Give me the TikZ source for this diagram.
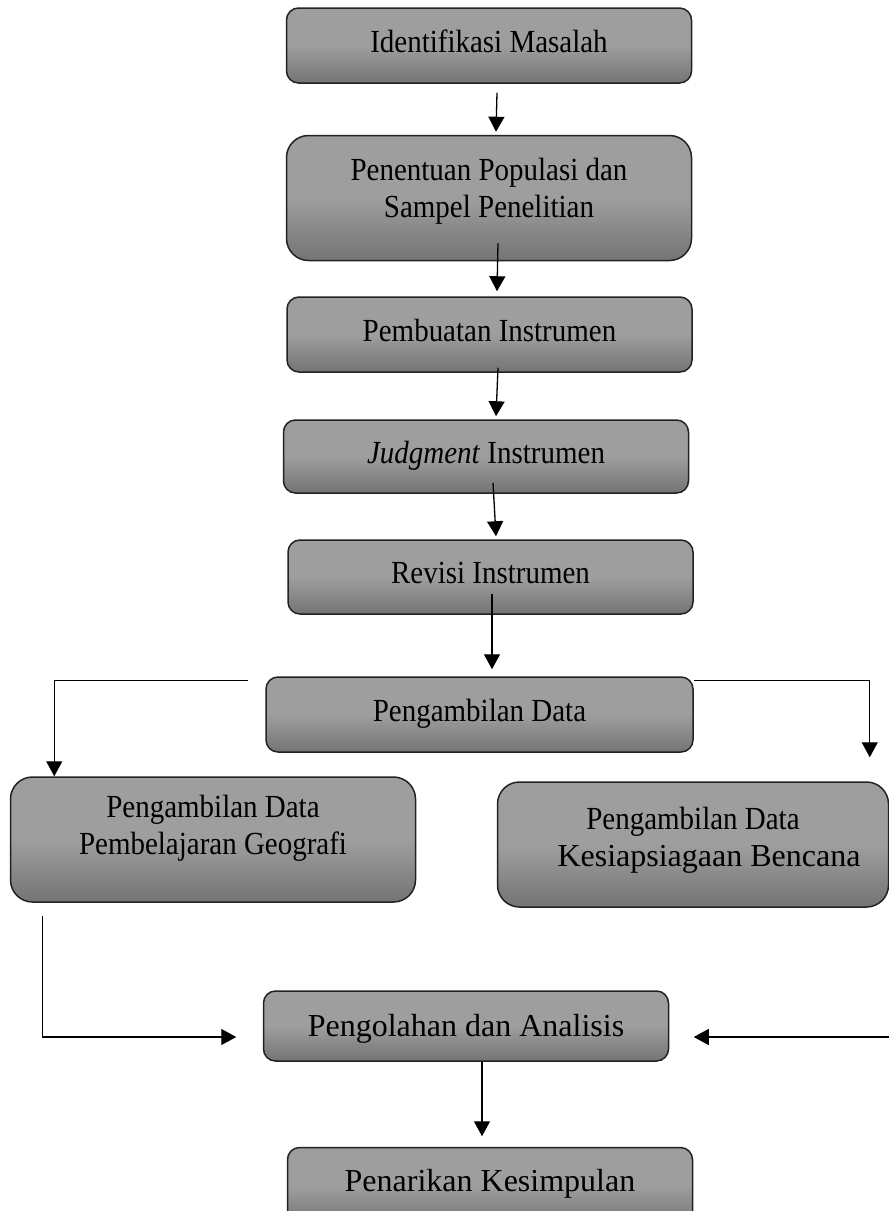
\documentclass[tikz,border=0pt]{standalone}
\usepackage{fontspec}
\setmainfont{Liberation Serif}
\newfontfamily\kotakfont[FakeStretch=0.9]{Liberation Serif}
\usetikzlibrary{arrows.meta,calc}
\definecolor{boxtop}{RGB}{158,158,158}
\definecolor{boxbot}{RGB}{116,116,116}
\definecolor{boxline}{RGB}{34,34,34}

\begin{document}
\begin{tikzpicture}[x=1pt,y=-1pt,
    kotak/.style={rectangle, draw=boxline, line width=1.5pt,
      top color=boxtop, bottom color=boxbot, middle color=boxtop,
      minimum width=405pt, inner sep=0pt, align=center,
      font=\kotakfont\fontsize{32.2}{37}\selectfont},
    stage/.style={kotak, minimum height=75pt, rounded corners=12pt,
      text height=22pt, text depth=9pt},
    tallstage/.style={kotak, minimum height=125pt, rounded corners=22pt},
    bigstage/.style={stage, font=\fontsize{32}{38}\selectfont, text height=22.5pt},
    flow/.style={line width=1.3pt, -{Triangle[length=15pt,width=16pt]}}]
  \useasboundingbox (0,0) rectangle (889,1211);
  \clip (0,0) rectangle (889,1211);

  \node[stage] (ident) at (489,45.5) {Identifikasi Masalah};
  \node[tallstage, text depth=20pt] (pop) at (489,198) {Penentuan Populasi dan\\Sampel Penelitian};
  \node[stage] (instr) at (489.5,334.5) {Pembuatan Instrumen};
  \node[stage, minimum height=73pt] (judg) at (486,456.5) {\textit{Judgment} Instrumen};
  \node[stage, minimum height=74pt] (revisi) at (490.5,577) {Revisi Instrumen};
  \node[stage, minimum width=427pt] (ambil) at (479.5,714.5) {Pengambilan Data};
  \node[tallstage, text depth=30pt] (belajar) at (213,839.5) {Pengambilan Data\\Pembelajaran Geografi};
  \node[tallstage, minimum width=391pt, text depth=15pt] (bencana) at (693,844.5)
    {Pengambilan Data\\{\rmfamily\fontsize{32}{37}\selectfont\hspace*{32pt}Kesiapsiagaan Bencana}};
  \node[bigstage, minimum height=70pt, text depth=2pt] (olah) at (466,1026) {Pengolahan dan Analisis};
  \node[bigstage, minimum height=77pt, text depth=11pt] (tarik) at (490,1186) {Penarikan Kesimpulan};
  \coordinate (masuk) at (889,1037);

  % alur utama
  \draw[flow] ($(ident.south)+(8,9)$) -- ($(pop.north)+(7,-3)$);
  \draw[flow] ($(pop.south)+(9,-18)$) -- ($(instr.north)+(7.5,-5)$);
  \draw[flow] ($(instr.south)+(8.5,-5)$) -- ($(judg.north)+(10,-3)$);
  \draw[flow] ($(judg.south)+(7,-11)$) -- ($(revisi.north)+(5.5,-3)$);
  \draw[flow] ($(revisi.south)+(1.5,-21)$) -- ($(ambil.north)+(12.5,-7)$);
  % cabang
  \draw[flow] ($(ambil.north west)+(-17,4)$) -| ($(belajar.north west)+(44.5,0)$);
  \draw[flow] ($(ambil.north east)+(0,4)$) -| ($(bencana.north east)+(-19.5,-24)$);
  \draw[flow] ($(belajar.south west)+(32.5,13)$) |- ($(olah.west)+(-26.5,11)$);
  \draw[flow] (masuk) -- ($(olah.east)+(24.5,11)$);
  \draw[flow] ($(olah.south)+(16,0)$) -- ($(tarik.north)+(-8,-10.5)$);
\end{tikzpicture}
\end{document}
